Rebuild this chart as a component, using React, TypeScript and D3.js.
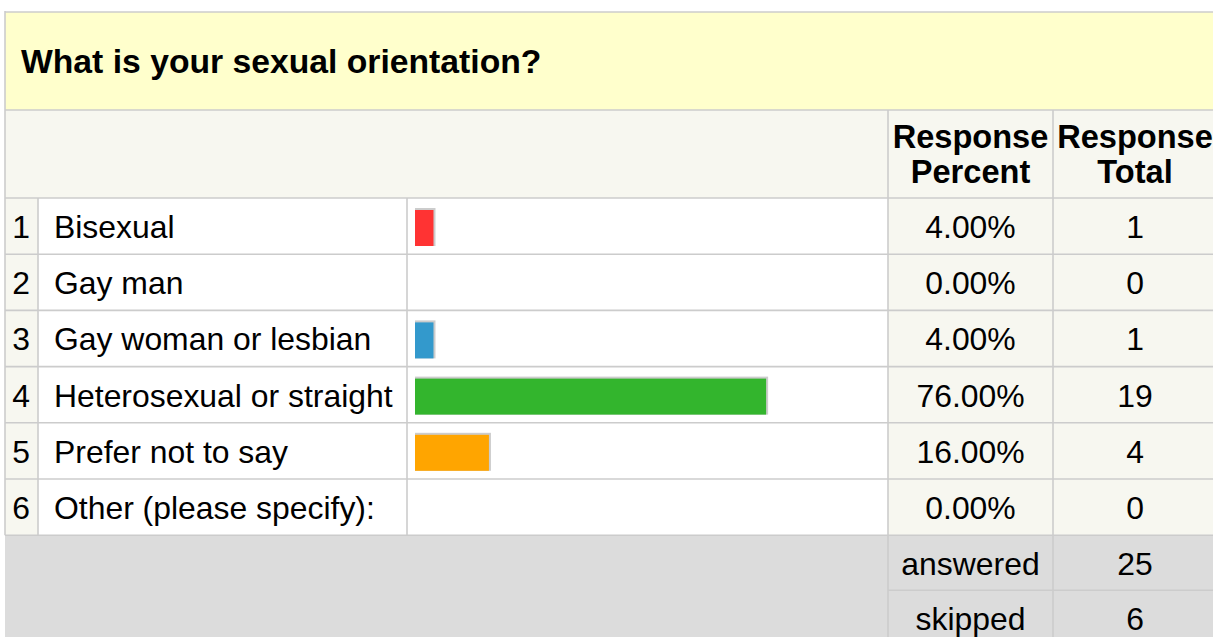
import * as d3 from 'd3';
import React, { useEffect, useRef } from 'react';

const questionTitle = "What is your sexual orientation?";
const answerChoices = [
  "Bisexual",
  "Gay man",
  "Gay woman or lesbian",
  "Heterosexual or straight",
  "Prefer not to say",
  "Other (please specify):",
];
const responsePercent = [4, 0, 4, 76, 16, 0];
const responseTotal = [1, 0, 1, 19, 4, 0];
const barColors = ["#ff3333", "#3399cc", "#3399cc", "#33b52d", "#ffa500", "#cccccc"];
const headerLabels = [["Response", "Percent"], ["Response", "Total"]];
const summaryLabels = ["answered", "skipped"];
const summaryValues = [25, 6];

const width = 1213;
const height = 637;
const font = "'Liberation Sans', Arial, Helvetica, sans-serif";
const border = "#cccccc";

export default function App() {
  const ref = useRef<SVGSVGElement | null>(null);

  useEffect(() => {
    const svg = d3.select(ref.current);
    svg.selectAll("*").remove();

    // column edges
    const left = 5;
    const colNum = 38;
    const colBar = 407;
    const colPct = 888;
    const colTot = 1053;
    const right = 1220;
    const pctCenter = (colPct + colTot) / 2;
    const totCenter = 1135;

    const top = 12;
    const headTop = 110;
    const rowsTop = 198;
    const rowH = 56.2;

    const y = d3.scaleLinear().domain([0, 1]).range([rowsTop, rowsTop + rowH]);
    const x = d3.scaleLinear().domain([0, 100]).range([415, 877]);
    const footTop = y(answerChoices.length);
    const footH = 55;

    // title band
    svg.append("rect").attr("x", left).attr("y", top).attr("width", right - left).attr("height", headTop - top)
      .attr("fill", "#ffffcc");
    svg.append("text").attr("x", 21).attr("y", 73).attr("font-family", font).attr("font-weight", "bold")
      .attr("font-size", 33.7).attr("fill", "#000").text(questionTitle);

    // header band
    svg.append("rect").attr("x", left).attr("y", headTop).attr("width", right - left).attr("height", rowsTop - headTop)
      .attr("fill", "#f7f7f0");
    const hd = svg.append("g").selectAll("text").data(headerLabels).enter().append("text")
      .attr("x", (d, i) => i === 0 ? pctCenter : totCenter)
      .attr("text-anchor", "middle").attr("font-family", font).attr("font-weight", "bold")
      .attr("font-size", 32.6).attr("fill", "#000");
    hd.append("tspan").attr("y", 147.5).attr("x", (d, i) => i === 0 ? pctCenter : totCenter).text(d => d[0]);
    hd.append("tspan").attr("y", 183).attr("x", (d, i) => i === 0 ? pctCenter : totCenter).text(d => d[1]);

    // rows
    const rows = svg.append("g").selectAll("g").data(answerChoices).enter().append("g")
      .attr("transform", (d, i) => "translate(0," + y(i) + ")");

    rows.append("rect").attr("x", left).attr("width", colNum - left).attr("height", rowH).attr("fill", "#f7f7f0");
    rows.append("rect").attr("x", colNum).attr("width", colPct - colNum).attr("height", rowH).attr("fill", "#fff");
    rows.append("rect").attr("x", colPct).attr("width", right - colPct).attr("height", rowH).attr("fill", "#f7f7f0");

    const txt = (sel: any) => sel.attr("y", 40).attr("font-family", font).attr("font-size", 31.9).attr("fill", "#000");
    rows.append("text").call(txt).attr("x", 21).attr("text-anchor", "middle").text((d, i) => i + 1);
    rows.append("text").call(txt).attr("x", 54).text(d => d);
    rows.append("text").call(txt).attr("x", pctCenter).attr("text-anchor", "middle")
      .text((d, i) => responsePercent[i].toFixed(2) + "%");
    rows.append("text").call(txt).attr("x", totCenter).attr("text-anchor", "middle")
      .text((d, i) => responseTotal[i]);

    // bars with grey edge on top and right
    const bars = rows.filter((d, i) => responsePercent[i] > 0);
    bars.append("rect").attr("x", x(0)).attr("y", 10)
      .attr("width", (d) => x(responsePercent[answerChoices.indexOf(d)]) - x(0) + 2).attr("height", 38)
      .attr("fill", "#cccccc");
    bars.append("rect").attr("x", x(0)).attr("y", 12)
      .attr("width", (d) => x(responsePercent[answerChoices.indexOf(d)]) - x(0)).attr("height", 36)
      .attr("fill", (d) => barColors[answerChoices.indexOf(d)]);

    // footer
    svg.append("rect").attr("x", left).attr("y", footTop).attr("width", right - left).attr("height", height - footTop)
      .attr("fill", "#dcdcdc");
    const foot = svg.append("g").selectAll("g").data(summaryLabels).enter().append("g")
      .attr("transform", (d, i) => "translate(0," + (footTop + i * footH) + ")");
    foot.append("text").call(txt).attr("x", pctCenter).attr("text-anchor", "middle").text(d => d);
    foot.append("text").call(txt).attr("x", totCenter).attr("text-anchor", "middle").text((d, i) => summaryValues[i]);

    // grid lines
    const g = svg.append("g").attr("stroke", border).attr("stroke-width", 1.6).attr("fill", "none");
    g.append("line").attr("x1", left).attr("x2", right).attr("y1", top).attr("y2", top);
    g.append("line").attr("x1", left).attr("x2", left).attr("y1", top - 1).attr("y2", footTop);
    g.append("line").attr("x1", left).attr("x2", right).attr("y1", headTop).attr("y2", headTop);
    d3.range(answerChoices.length + 1).forEach(i => {
      g.append("line").attr("x1", left).attr("x2", right).attr("y1", y(i)).attr("y2", y(i));
    });
    [colNum, colBar].forEach(cx => {
      g.append("line").attr("x1", cx).attr("x2", cx).attr("y1", rowsTop).attr("y2", footTop);
    });
    [colPct, colTot].forEach(cx => {
      g.append("line").attr("x1", cx).attr("x2", cx).attr("y1", headTop).attr("y2", height);
    });
    g.append("line").attr("x1", colPct).attr("x2", right).attr("y1", footTop + footH).attr("y2", footTop + footH);
  }, []);

  return (
    <svg ref={ref} width={width} height={height}
      style={{ position: "absolute", left: 0, top: 0, display: "block", background: "#fff" }} />
  );
}
